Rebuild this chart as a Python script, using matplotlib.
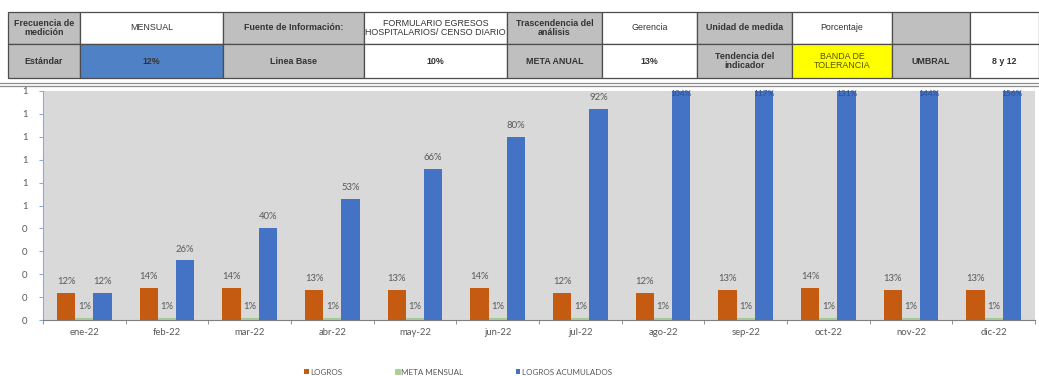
import matplotlib
matplotlib.use("Agg")
import matplotlib.pyplot as plt
from matplotlib.patches import Rectangle
import numpy as np

# ---------------- data ----------------
months = ["ene-22", "feb-22", "mar-22", "abr-22", "may-22", "jun-22",
          "jul-22", "ago-22", "sep-22", "oct-22", "nov-22", "dic-22"]
logros = [0.12, 0.14, 0.14, 0.13, 0.13, 0.14, 0.12, 0.12, 0.13, 0.14, 0.13, 0.13]
meta_mensual = [0.01] * 12
logros_acum = [0.12, 0.26, 0.40, 0.53, 0.66, 0.80, 0.92, 1.04, 1.17, 1.31, 1.44, 1.56]
ytick_values = [0.0, 0.1, 0.2, 0.3, 0.4, 0.5, 0.6, 0.7, 0.8, 0.9, 1.0]
ytick_labels = ["0", "0", "0", "0", "0", "1", "1", "1", "1", "1", "1"]
series_names = ["LOGROS", "META MENSUAL", "LOGROS ACUMULADOS"]

table_row1 = ["Frecuencia de\nmedición", "MENSUAL", "Fuente de Información:",
              "FORMULARIO EGRESOS\nHOSPITALARIOS/ CENSO DIARIO",
              "Trascendencia del\nanálisis", "Gerencia", "Unidad de medida",
              "Porcentaje", "", ""]
table_row2 = ["Estándar", "12%", "Linea Base", "10%", "META ANUAL", "13%",
              "Tendencia del\nindicador", "BANDA DE\nTOLERANCIA", "UMBRAL", "8 y 12"]

# ---------------- figure ----------------
W, H = 1039, 376
fig = plt.figure(figsize=(W / 100, H / 100), dpi=100)
fig.patch.set_facecolor("white")

def fx(px):
    return px / W

def fy(py):
    return 1 - py / H

# ---------------- table ----------------
col_edges = [8, 80, 223, 364, 507, 602, 697, 792, 892, 970, 1039]
row_edges = [12, 44, 78]
gray = "#bfbfbf"
blue_cell = "#4f81c7"
yellow = "#ffff00"
row1_colors = [gray, "white", gray, "white", gray, "white", gray, "white", gray, "white"]
row2_colors = [gray, blue_cell, gray, "white", gray, "white", gray, yellow, gray, "white"]
row1_bold = [True, False, True, False, True, False, True, False, True, False]
row2_bold = [True, True, True, True, True, True, True, False, True, True]

tab_font = "Liberation Sans"
for r, (texts, colors, bolds) in enumerate([(table_row1, row1_colors, row1_bold),
                                           (table_row2, row2_colors, row2_bold)]):
    y0, y1 = row_edges[r], row_edges[r + 1]
    for c in range(10):
        x0, x1 = col_edges[c], col_edges[c + 1]
        fig.patches.append(Rectangle((fx(x0), fy(y1)), fx(x1) - fx(x0), fy(y0) - fy(y1),
                                     transform=fig.transFigure, facecolor=colors[c],
                                     edgecolor="#4d4d4d", linewidth=0.9))
        txt = texts[c]
        if txt:
            tcolor = "#333333" if colors[c] != yellow else "#555500"
            fig.text(fx((x0 + x1) / 2), fy((y0 + y1) / 2), txt, ha="center", va="center",
                     fontsize=6.4, fontweight="bold" if bolds[c] else "normal",
                     color=tcolor, family=tab_font, linespacing=1.05)

# separator double line under table
for yy in (82.5, 85.5):
    fig.add_artist(plt.Line2D([0, 1], [fy(yy), fy(yy)], transform=fig.transFigure,
                              color="#8c8c8c", linewidth=0.9))

# ---------------- chart ----------------
ax_left, ax_right, ax_top, ax_bottom = 43, 1035, 91, 320
ax = fig.add_axes([fx(ax_left), fy(ax_bottom), fx(ax_right) - fx(ax_left), fy(ax_top) - fy(ax_bottom)])
ax.set_facecolor("#d9d9d9")

x = np.arange(len(months))
bw = 0.22
c_orange = "#c55a11"
c_green = "#a9d18e"
c_blue = "#4472c4"
b1 = ax.bar(x - bw, logros, bw, color=c_orange, label=series_names[0])
b2 = ax.bar(x, meta_mensual, bw, color=c_green, edgecolor="#8fbf7a", linewidth=0.4,
            label=series_names[1])
b3 = ax.bar(x + bw, logros_acum, bw, color=c_blue, label=series_names[2])

ax.set_xlim(-0.5, len(months) - 0.5)
ax.set_ylim(0, 1.0)

lab_color = "#595959"
lab_font = "Lato"
for bars, vals in ((b1, logros), (b2, meta_mensual), (b3, logros_acum)):
    for rect, v in zip(bars, vals):
        cx = rect.get_x() + rect.get_width() / 2
        if v > 1.0:
            ax.annotate(f"{v*100:.0f}%", (cx, 1.0), xytext=(0, 0.5), textcoords="offset points",
                        ha="center", va="top", fontsize=6.0, color="#2f4f8f",
                        family=lab_font, annotation_clip=False)
        else:
            ax.annotate(f"{v*100:.0f}%", (cx, v), xytext=(0, 5), textcoords="offset points",
                        ha="center", va="bottom", fontsize=6.8, color=lab_color,
                        family=lab_font)

ax.set_yticks(ytick_values)
ax.set_yticklabels(ytick_labels, fontsize=6.8, color=lab_color, family=lab_font)
ax.set_xticks(x)
ax.set_xticklabels(months, fontsize=6.8, color=lab_color, family=lab_font)
ax.tick_params(axis="x", length=0, pad=6)
ax.tick_params(axis="y", length=3, color="#8eaadb", pad=8)
ax.set_xticks(np.arange(-0.5, len(months), 1.0), minor=True)
ax.tick_params(axis="x", which="minor", length=3, color="#7f7f7f")

for s in ("top", "right"):
    ax.spines[s].set_visible(False)
ax.spines["left"].set_color("#8eaadb")
ax.spines["left"].set_linewidth(0.8)
ax.spines["bottom"].set_color("#7f7f7f")
ax.spines["bottom"].set_linewidth(0.8)

leg = fig.legend(handles=[b1, b2, b3], labels=series_names, loc="lower center",
                 bbox_to_anchor=(fx(458), -0.01), ncol=3, frameon=False,
                 fontsize=5.8, handlelength=0.6, handleheight=0.6, handletextpad=0.2,
                 columnspacing=6.5, borderaxespad=0.1)
for t in leg.get_texts():
    t.set_color(lab_color)
    t.set_family(lab_font)

fig.savefig("out.png", dpi=100, facecolor="white")
